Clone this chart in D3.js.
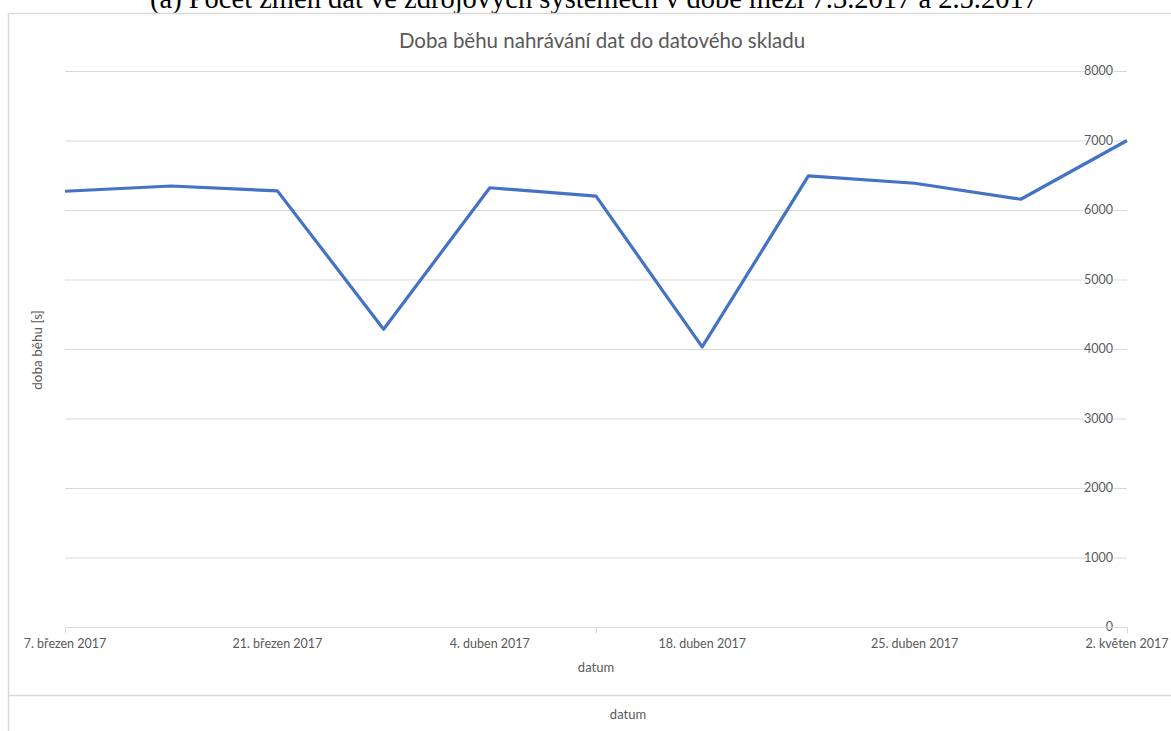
<!DOCTYPE html>
<html><head><meta charset="utf-8">
<script src="https://cdn.jsdelivr.net/npm/d3@7"></script>
<style>
body{margin:0;background:#fff;}
svg{display:block;font-family:Lato,"Open Sans",sans-serif;}
</style></head>
<body>
<svg id="c" width="1171" height="731"></svg>
<script>
const categories = ["7. březen 2017","14. březen 2017","21. březen 2017","28. březen 2017","4. duben 2017","11. duben 2017","18. duben 2017","21. duben 2017","25. duben 2017","28. duben 2017","2. květen 2017"];
const values = [6270, 6345, 6275, 4285, 6320, 6200, 4030, 6490, 6385, 6155, 7000];
const yTicks = [0,1000,2000,3000,4000,5000,6000,7000,8000];
const labeledIdx = [0,2,4,6,8,10];
const tickIdx = [0,5,10];

const svg = d3.select("#c");
const gray = "#595959", grid = "#d9d9d9";

// caption (cut off at top, as in the reference)
svg.append("text").attr("x",594).attr("y",8).attr("text-anchor","middle")
  .attr("font-family","'Liberation Serif',serif").attr("font-size",28.5).attr("fill","#000")
  .text("(a) Počet změn dat ve zdrojových systémech v době mezi 7.3.2017 a 2.5.2017");

// chart frame
svg.append("rect").attr("x",8.5).attr("y",13.5).attr("width",1180).attr("height",740)
  .attr("fill","none").attr("stroke",grid).attr("stroke-width",1.5);
svg.append("line").attr("x1",8).attr("x2",1171).attr("y1",695.5).attr("y2",695.5)
  .attr("stroke",grid).attr("stroke-width",1.5);

const x = d3.scalePoint().domain(d3.range(categories.length)).range([65,1127]);
const y = d3.scaleLinear().domain([0,8000]).range([627,71]);

// gridlines
svg.append("g").selectAll("line").data(yTicks).join("line")
  .attr("x1",65).attr("x2",1127).attr("y1",d=>y(d)+0.5).attr("y2",d=>y(d)+0.5)
  .attr("stroke",grid).attr("stroke-width",1);

// y labels (right side, over gridlines)
svg.append("g").selectAll("text").data(yTicks).join("text")
  .attr("x",1113).attr("y",d=>y(d)+4).attr("text-anchor","end")
  .attr("font-size",12.5).attr("fill",gray)
  .attr("paint-order","stroke").attr("stroke","#fff").attr("stroke-width",2)
  .text(d=>d);

// x axis
const xa = d3.axisBottom(x).tickValues(tickIdx).tickSize(6).tickFormat("");
const gx = svg.append("g").attr("transform","translate(0,627.5)").call(xa);
gx.select(".domain").attr("stroke",grid).attr("d","M65,0H1127");
gx.selectAll(".tick line").attr("stroke",grid);

svg.append("g").selectAll("text").data(labeledIdx).join("text")
  .attr("x",d=>x(d))
  .attr("y",648).attr("text-anchor","middle")
  .attr("font-size",12.5).attr("fill",gray)
  .text(d=>categories[d]);

// line
svg.append("path").datum(values)
  .attr("d",d3.line().x((d,i)=>x(i)).y(d=>y(d)))
  .attr("fill","none").attr("stroke","#4472C4").attr("stroke-width",3.2)
  .attr("stroke-linejoin","round");

// titles
svg.append("text").attr("x",602).attr("y",48).attr("text-anchor","middle")
  .attr("font-size",20.5).attr("fill",gray).text("Doba běhu nahrávání dat do datového skladu");
svg.append("text").attr("x",596).attr("y",672).attr("text-anchor","middle")
  .attr("font-size",13).attr("fill",gray).text("datum");
svg.append("text").attr("x",628).attr("y",719).attr("text-anchor","middle")
  .attr("font-size",13).attr("fill",gray).text("datum");
svg.append("text").attr("transform","translate(42,350) rotate(-90)").attr("text-anchor","middle")
  .attr("font-size",13.5).attr("fill",gray).text("doba běhu [s]");
</script>
</body></html>
